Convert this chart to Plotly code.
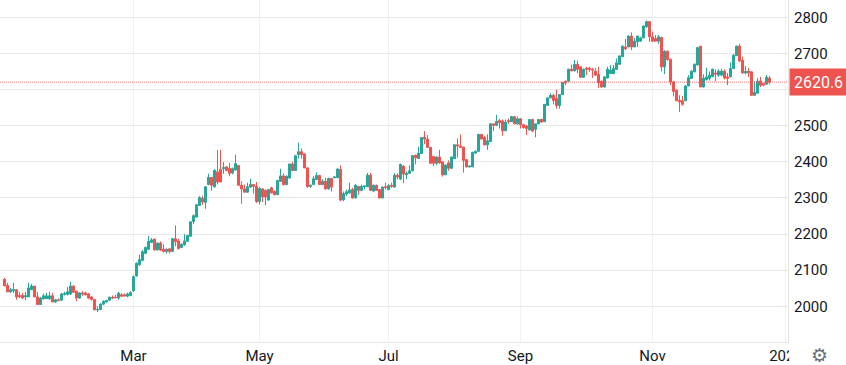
import plotly.graph_objects as go

opens = [2075,2058,2040,2043,2046,2030,2030,2026,2026,2046,
2056,2026,2005,2021,2021,2021,2029,2012,2018,2017,
2033,2033,2034,2056,2042,2023,2037,2037,2034,2026,
2019,1990,1991,2006,2012,2017,2025,2025,2023,2032,
2032,2028,2030,2043,2084,2115,2127,2147,2158,2177,
2186,2156,2175,2158,2152,2159,2152,2187,2181,2163,
2170,2180,2194,2235,2247,2279,2299,2288,2337,2357,
2331,2372,2379,2381,2386,2382,2369,2377,2390,2335,
2325,2316,2330,2337,2332,2290,2325,2321,2294,2328,
2318,2309,2346,2361,2337,2355,2394,2376,2420,2428,
2422,2383,2332,2337,2351,2362,2337,2346,2325,2354,
2356,2356,2379,2295,2311,2314,2323,2300,2332,2321,
2331,2331,2363,2319,2335,2323,2300,2331,2323,2335,
2330,2363,2352,2388,2364,2368,2375,2418,2409,2423,
2468,2463,2440,2415,2396,2413,2400,2364,2397,2382,
2409,2447,2444,2441,2406,2386,2386,2424,2429,2476,
2467,2447,2456,2505,2501,2514,2513,2486,2514,2511,
2525,2505,2519,2503,2499,2488,2517,2490,2505,2517,
2511,2556,2577,2584,2575,2556,2586,2623,2623,2656,
2652,2670,2663,2634,2659,2659,2656,2651,2642,2623,
2607,2632,2644,2644,2656,2670,2691,2718,2718,2748,
2718,2732,2734,2743,2774,2788,2746,2741,2734,2744,
2663,2706,2684,2621,2598,2570,2569,2569,2610,2631,
2649,2668,2720,2607,2628,2631,2636,2646,2640,2640,
2651,2635,2635,2658,2694,2720,2681,2646,2651,2649,
2584,2590,2624,2617,2615,2632]

closes = [2057,2040,2046,2046,2026,2027,2023,2029,2051,2056,
2026,2005,2023,2029,2029,2029,2012,2018,2016,2034,
2035,2040,2056,2039,2023,2037,2034,2032,2023,2019,
1990,1991,2006,2014,2016,2025,2023,2024,2036,2028,
2029,2034,2038,2082,2119,2129,2151,2163,2180,2184,
2156,2175,2156,2152,2158,2152,2187,2179,2160,2172,
2181,2196,2234,2251,2281,2301,2289,2331,2357,2335,
2376,2344,2344,2384,2376,2368,2381,2395,2335,2325,
2316,2331,2337,2332,2290,2326,2303,2303,2323,2314,
2309,2348,2361,2337,2360,2394,2376,2417,2428,2420,
2383,2331,2335,2353,2362,2337,2346,2325,2354,2330,
2358,2380,2294,2312,2317,2322,2300,2335,2321,2332,
2333,2363,2321,2335,2321,2300,2330,2329,2334,2332,
2363,2358,2393,2366,2368,2375,2417,2411,2424,2467,
2463,2440,2396,2396,2413,2397,2364,2391,2382,2413,
2447,2444,2440,2404,2386,2388,2426,2429,2476,2463,
2447,2458,2505,2501,2512,2508,2486,2510,2511,2525,
2505,2519,2503,2495,2492,2517,2485,2505,2517,2510,
2559,2577,2584,2570,2556,2586,2620,2618,2656,2652,
2670,2656,2634,2656,2656,2656,2654,2640,2619,2607,
2635,2656,2654,2658,2674,2693,2720,2713,2748,2718,
2734,2748,2743,2776,2788,2746,2734,2734,2746,2663,
2706,2683,2621,2595,2569,2566,2559,2610,2633,2651,
2670,2716,2607,2631,2635,2640,2656,2643,2651,2651,
2632,2631,2658,2695,2720,2679,2646,2650,2646,2584,
2592,2623,2612,2612,2634,2620.6]

highs = [2078,2065,2051,2065,2046,2040,2037,2040,2065,2062,
2056,2039,2026,2035,2037,2040,2037,2020,2022,2037,
2040,2053,2068,2058,2042,2039,2042,2040,2037,2028,
2019,2000,2008,2016,2018,2027,2030,2032,2040,2036,
2036,2038,2042,2085,2122,2143,2156,2165,2195,2189,
2187,2177,2180,2172,2160,2160,2189,2224,2187,2174,
2200,2198,2236,2254,2282,2305,2306,2331,2367,2357,
2380,2433,2433,2399,2388,2397,2384,2420,2390,2346,
2337,2342,2353,2337,2344,2330,2327,2323,2325,2331,
2321,2350,2381,2368,2362,2394,2400,2418,2453,2437,
2422,2385,2337,2360,2371,2364,2352,2356,2356,2354,
2360,2382,2390,2318,2323,2342,2328,2338,2332,2337,
2334,2369,2369,2337,2337,2325,2332,2342,2339,2342,
2369,2368,2395,2391,2373,2390,2419,2420,2442,2468,
2485,2474,2440,2415,2415,2433,2400,2392,2404,2415,
2449,2465,2476,2441,2406,2390,2428,2431,2477,2477,
2472,2476,2507,2505,2530,2519,2517,2517,2520,2527,
2527,2525,2521,2505,2502,2518,2519,2505,2518,2520,
2560,2578,2590,2588,2600,2587,2621,2625,2658,2669,
2682,2680,2665,2658,2663,2663,2660,2660,2663,2625,
2637,2663,2668,2668,2686,2695,2722,2740,2750,2758,
2743,2749,2746,2777,2791,2790,2760,2751,2751,2746,
2709,2708,2685,2624,2600,2584,2582,2612,2640,2653,
2672,2718,2721,2642,2660,2650,2658,2656,2656,2658,
2656,2646,2675,2698,2722,2726,2691,2665,2660,2651,
2623,2632,2635,2619,2640,2638]

lows = [2055,2040,2037,2037,2018,2023,2021,2017,2026,2045,
2026,2005,2005,2018,2021,2018,2012,2010,2014,2017,
2030,2030,2032,2037,2014,2021,2028,2030,2021,2016,
1990,1984,1990,2003,2010,2015,2021,2022,2018,2026,
2027,2025,2028,2040,2082,2112,2125,2144,2156,2175,
2154,2155,2153,2149,2146,2146,2150,2166,2157,2162,
2168,2178,2192,2228,2246,2278,2281,2270,2335,2320,
2328,2337,2344,2367,2374,2360,2365,2377,2335,2284,
2314,2314,2328,2312,2286,2282,2289,2280,2293,2312,
2307,2308,2345,2334,2335,2354,2374,2375,2409,2409,
2383,2328,2328,2336,2350,2336,2335,2323,2323,2318,
2354,2355,2291,2291,2305,2311,2298,2299,2309,2319,
2323,2330,2319,2317,2319,2298,2299,2323,2321,2328,
2328,2352,2350,2341,2352,2367,2374,2393,2408,2422,
2449,2440,2395,2388,2391,2395,2359,2363,2375,2380,
2408,2411,2440,2370,2384,2384,2385,2423,2428,2462,
2445,2433,2455,2485,2500,2492,2472,2485,2505,2510,
2504,2503,2492,2492,2474,2487,2483,2468,2504,2508,
2510,2555,2576,2559,2547,2547,2585,2612,2620,2650,
2650,2645,2633,2633,2640,2649,2632,2638,2605,2605,
2605,2631,2643,2643,2655,2669,2690,2709,2717,2709,
2717,2718,2732,2742,2771,2732,2732,2732,2726,2650,
2643,2680,2612,2581,2569,2538,2555,2568,2609,2630,
2648,2667,2607,2606,2625,2625,2634,2623,2635,2637,
2628,2612,2634,2657,2693,2677,2644,2642,2635,2584,
2583,2589,2607,2609,2613,2614]

candle_index = list(range(len(opens)))
month_labels = ["Mar", "May", "Jul", "Sep", "Nov", "2024"]
month_positions = [43, 85, 128, 172, 216, 260.5]
price_ticks = [2000, 2100, 2200, 2300, 2400, 2500, 2600, 2700, 2800]
price_tick_labels = ["2000", "2100", "2200", "2300", "2400", "2500", "", "2700", "2800"]

UP = "#26A69A"
DOWN = "#EF5350"
FONT = "Roboto, Arial, sans-serif"
TEXT = "#131722"
last_price = closes[-1]

fig = go.Figure(go.Candlestick(
    x=candle_index, open=opens, high=highs, low=lows, close=closes,
    increasing=dict(line=dict(color=UP, width=1), fillcolor=UP),
    decreasing=dict(line=dict(color=DOWN, width=1), fillcolor=DOWN),
    whiskerwidth=0, showlegend=False, hoverinfo="skip",
))

fig.update_layout(
    width=846, height=365, autosize=False,
    margin=dict(l=0, r=58, t=0, b=23),
    paper_bgcolor="white", plot_bgcolor="white",
    boxgap=0.15, boxgroupgap=0.2,
    font=dict(family=FONT, size=15, color=TEXT),
    xaxis=dict(
        range=[-1.5, 261.17], rangeslider=dict(visible=False),
        tickmode="array", tickvals=month_positions, ticktext=month_labels,
        showgrid=True, gridcolor="#F0F1F4", gridwidth=1, zeroline=False,
        showline=True, linecolor="#E6E6E6", linewidth=1,
        ticks="", tickangle=0, tickfont=dict(family=FONT, size=15, color=TEXT),
    ),
    yaxis=dict(
        side="right", range=[1901.2, 2847.9], tickmode="array", tickvals=price_ticks,
        ticktext=price_tick_labels,
        showgrid=True, gridcolor="#E8E8E8", gridwidth=1, zeroline=False,
        showline=True, linecolor="#E6E6E6", linewidth=1,
        ticks="outside", ticklen=2, tickcolor="rgba(0,0,0,0)",
        tickfont=dict(family=FONT, size=15, color=TEXT),
    ),
    shapes=[
        dict(type="line", xref="paper", x0=0, x1=1, yref="y", y0=last_price, y1=last_price,
             line=dict(color="rgba(239,83,80,0.8)", width=1, dash="1px,1px"), layer="above"),
        dict(type="rect", xref="paper", x0=1.0015, x1=1.08, yref="paper", y0=-0.07, y1=-0.005,
             fillcolor="white", line=dict(width=0), layer="above"),
    ],
    annotations=[
        dict(xref="paper", x=1, xanchor="left", xshift=1, yref="y", y=last_price, yanchor="middle",
             text=f"{last_price:.1f}", showarrow=False, bgcolor=DOWN, width=57, height=26,
             font=dict(family=FONT, size=16, color="white"), borderpad=0),
        dict(xref="paper", x=1.0395, xanchor="center", yref="paper", y=-0.038, yanchor="middle",
             text="\u2699", showarrow=False,
             font=dict(family="DejaVu Sans", size=19, color="#6A6D78")),
    ],
)
fig.write_html("out.html", config=dict(displayModeBar=False),
               post_script="document.body.style.margin='0';document.body.style.overflow='hidden';")
